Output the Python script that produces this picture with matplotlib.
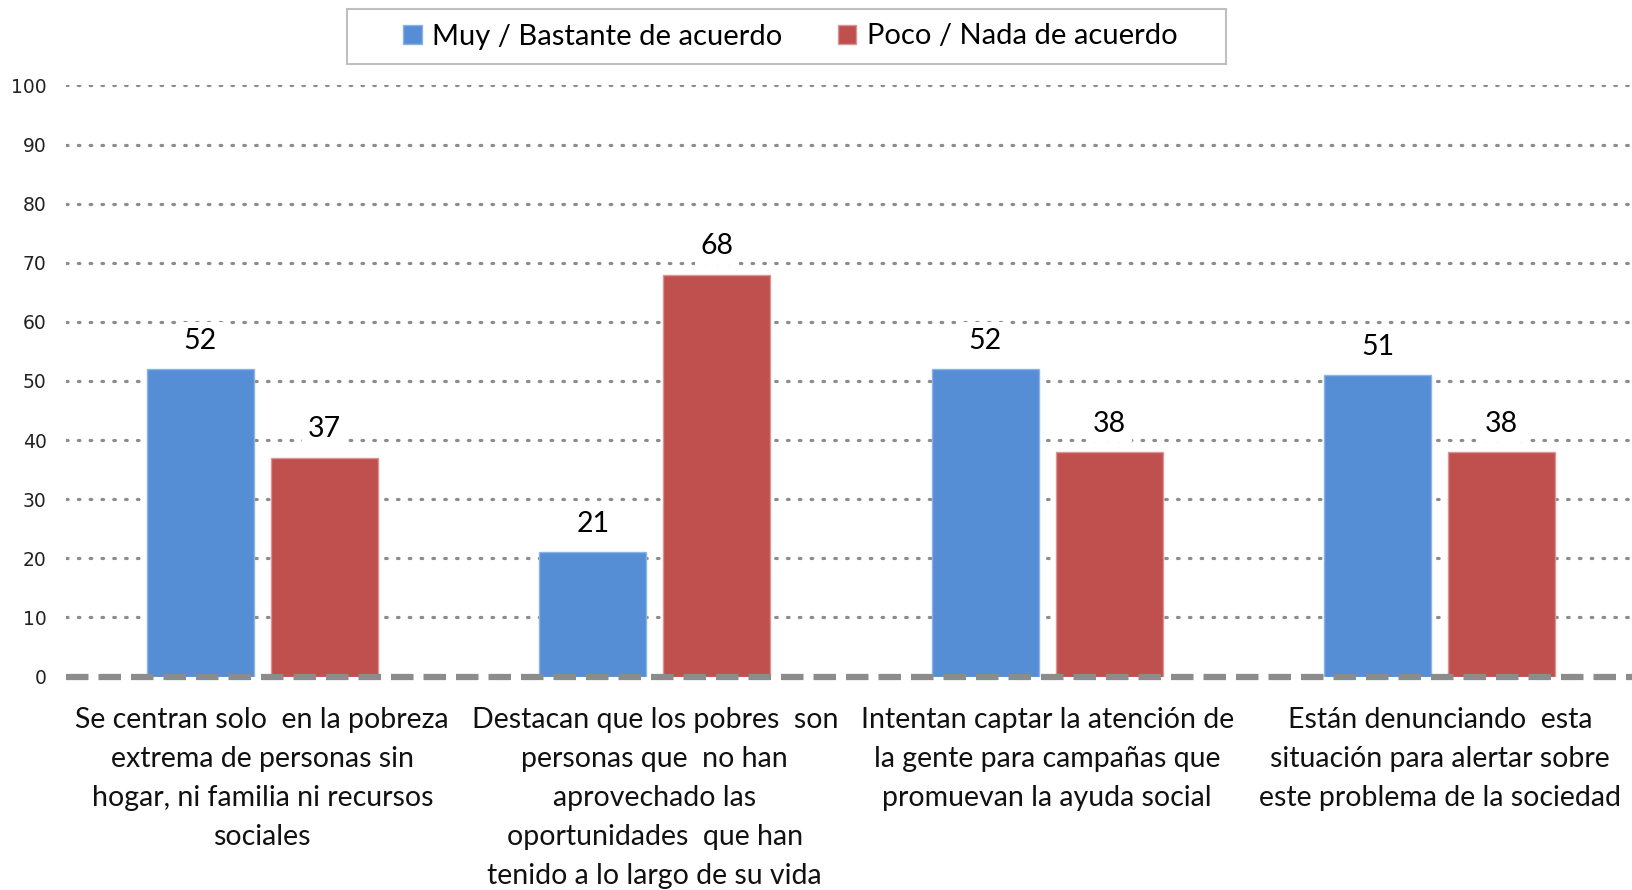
import matplotlib
matplotlib.use("Agg")
import matplotlib.pyplot as plt
from matplotlib.patches import Rectangle
import numpy as np

categories = [
    "Se centran solo  en la pobreza\nextrema de personas sin\nhogar, ni familia ni recursos\nsociales",
    "Destacan que los pobres  son\npersonas que  no han\naprovechado las\noportunidades  que han\ntenido a lo largo de su vida",
    "Intentan captar la atención de\nla gente para campañas que\npromuevan la ayuda social",
    "Están denunciando  esta\nsituación para alertar sobre\neste problema de la sociedad",
]
series_names = ["Muy / Bastante de acuerdo", "Poco / Nada de acuerdo"]
muy = [52, 21, 52, 51]
poco = [37, 68, 38, 38]
yticks = [0, 10, 20, 30, 40, 50, 60, 70, 80, 90, 100]

blue = "#558ED5"
red = "#C0504D"
txtfont = ["Lato", "DejaVu Sans"]

fig = plt.figure(figsize=(16.32, 8.90), dpi=100)
ax = fig.add_axes([66/1632, 1-676.6/890, 1570/1632, (676.6-85.4)/890])

x = np.arange(len(categories))
w = 0.272
off = 0.158
b1 = ax.bar(x - off, muy, w, color=blue, edgecolor="#8DB3E2", linewidth=1, zorder=3, label=series_names[0])
b2 = ax.bar(x + off, poco, w, color=red, edgecolor="#D99694", linewidth=1, zorder=3, label=series_names[1])

ax.set_xlim(-0.5, 3.5)
ax.set_ylim(0, 100)
ax.set_yticks(yticks)
ax.set_yticklabels([str(t) for t in yticks], fontsize=13.5, family="DejaVu Sans", color="#222222")
for t in yticks[1:]:
    ax.axhline(t, color="#8C8C8C", linestyle=(0, (0.5, 3.2)), dash_capstyle="round", linewidth=2.3, zorder=1)
ax.axhline(0, color="#8C8C8C", linestyle=(0, (3.6, 1.6)), linewidth=4.5, zorder=4, clip_on=False)

for s in ax.spines.values():
    s.set_visible(False)
ax.tick_params(axis="y", length=0, pad=14)
ax.tick_params(axis="x", length=0, pad=22)
ax.set_xticks(x)
ax.set_xticklabels(categories, fontsize=20.5, family=txtfont, linespacing=1.62, va="top", color="#111111")

for bars, vals in ((b1, muy), (b2, poco)):
    for r, v in zip(bars, vals):
        ax.text(r.get_x() + r.get_width()/2, v + 2.6, str(v), ha="center", va="bottom",
                fontsize=20.5, family=txtfont, zorder=5,
                bbox=dict(facecolor="white", edgecolor="none", pad=4))

fig.patches.append(Rectangle((347/1632, 1-63.5/890), (1226-347)/1632, (63.5-9.4)/890,
                             transform=fig.transFigure, facecolor="white", edgecolor="#BFBFBF",
                             linewidth=1.5, zorder=0))
leg = fig.legend(handles=[b1, b2], labels=series_names, loc="center", bbox_to_anchor=(790/1632, 1-36.5/890),
                 ncol=2, frameon=False,
                 prop={"family": txtfont, "size": 21}, handlelength=0.65, handleheight=0.65,
                 handletextpad=0.35, columnspacing=1.9, borderpad=0.3, borderaxespad=0)

fig.savefig("out.png", dpi=100, facecolor="white")
